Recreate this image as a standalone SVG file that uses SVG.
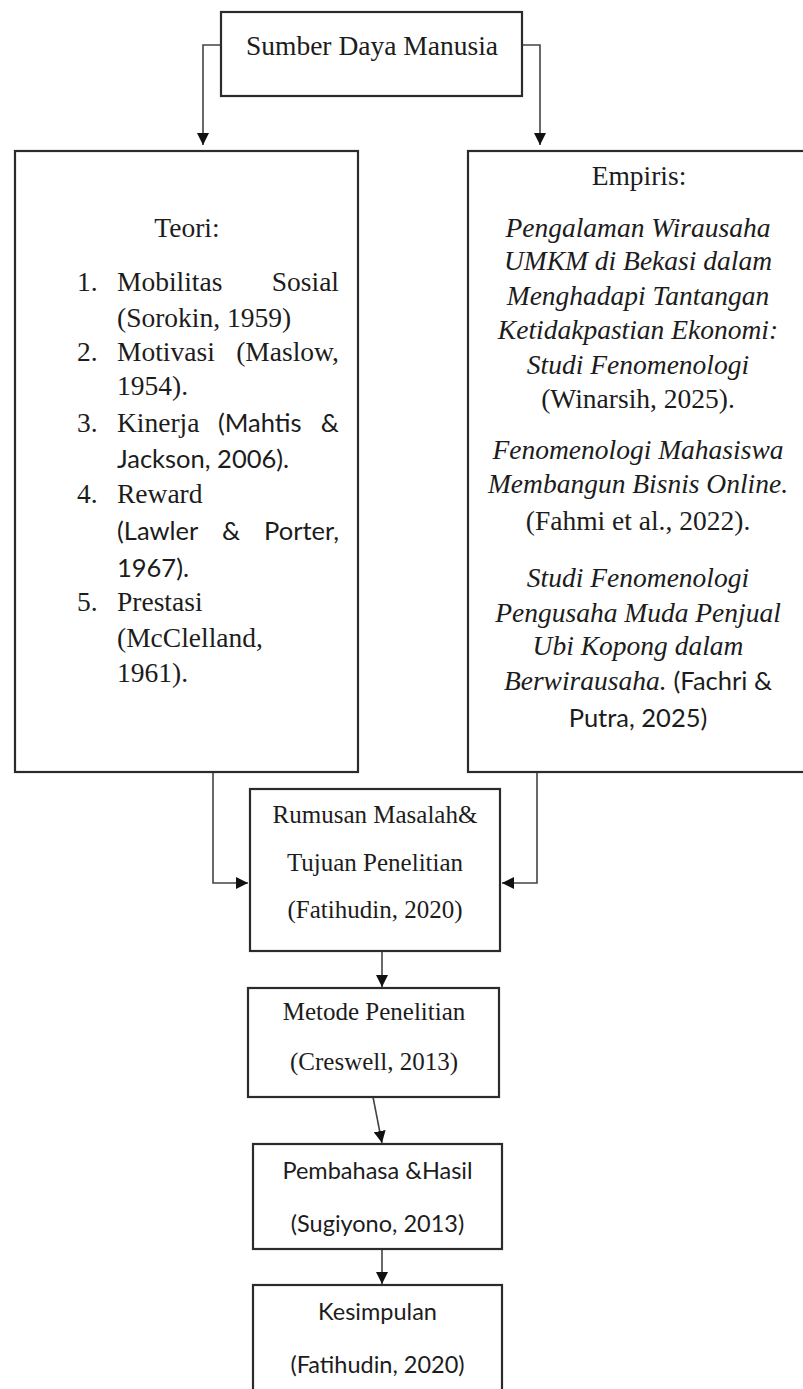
<svg xmlns="http://www.w3.org/2000/svg" width="803" height="1389" viewBox="0 0 803 1389">
<style>
.box{fill:#fff;stroke:#2b2b2b;stroke-width:2.2}
.con{fill:none;stroke:#444;stroke-width:1.6}
.t{font-family:"Liberation Serif","Times New Roman",serif;font-size:27.5px;fill:#1c1c1c}
.tm{font-family:"Liberation Serif","Times New Roman",serif;font-size:25px;fill:#1c1c1c}
.c{font-family:Lato,"Liberation Sans",sans-serif;font-size:25.5px;fill:#1c1c1c}
.cm{font-family:Lato,"Liberation Sans",sans-serif;font-size:23.5px;fill:#1c1c1c}
.i{font-style:italic}
.mid{text-anchor:middle}
.end{text-anchor:end}
</style>
<defs>
<marker id="arr" viewBox="0 0 12 12" refX="12" refY="6" markerWidth="12" markerHeight="12" markerUnits="userSpaceOnUse" orient="auto">
<path d="M0,0 L12,6 L0,12 z" fill="#111"/>
</marker>
</defs>
<rect width="803" height="1389" fill="#fff"/>

<g id="connectors">
<path class="con" d="M221,45 H203 V145" marker-end="url(#arr)"/>
<path class="con" d="M523,45 H540 V145" marker-end="url(#arr)"/>
<path class="con" d="M213,772 V883 H248" marker-end="url(#arr)"/>
<path class="con" d="M537,772 V883 H502" marker-end="url(#arr)"/>
<path class="con" d="M382,951 V987" marker-end="url(#arr)"/>
<path class="con" d="M373,1097 L382,1143" marker-end="url(#arr)"/>
<path class="con" d="M382,1249 V1284" marker-end="url(#arr)"/>
</g>

<g id="sdm">
<rect class="box" x="221" y="12" width="301" height="84"/>
<text class="t mid" x="372" y="55">Sumber Daya Manusia</text>
</g>

<g id="teori">
<rect class="box" x="15" y="151" width="343" height="621"/>
<text class="t mid" x="187" y="237">Teori:</text>
<text class="t" x="77" y="291">1.</text>
<text class="t" x="117" y="291">Mobilitas</text>
<text class="t end" x="339" y="291">Sosial</text>
<text class="t" x="117" y="327">(Sorokin, 1959)</text>
<text class="t" x="77" y="361">2.</text>
<text class="t" x="117" y="361">Motivasi</text>
<text class="t end" x="339" y="361">(Maslow,</text>
<text class="t" x="117" y="395">1954).</text>
<text class="t" x="77" y="432">3.</text>
<text class="t" x="117" y="432">Kinerja</text>
<text class="c" x="218" y="432">(Mahtis</text>
<text class="c end" x="339" y="432">&amp;</text>
<text class="c" x="117" y="468">Jackson, 2006).</text>
<text class="t" x="77" y="503">4.</text>
<text class="t" x="117" y="503">Reward</text>
<text class="c" x="117" y="540">(Lawler</text>
<text class="c" x="222" y="540">&amp;</text>
<text class="c end" x="339" y="540">Porter,</text>
<text class="c" x="117" y="577">1967).</text>
<text class="t" x="77" y="611">5.</text>
<text class="t" x="117" y="611">Prestasi</text>
<text class="t" x="117" y="647">(McClelland,</text>
<text class="t" x="117" y="682">1961).</text>
</g>

<g id="empiris">
<rect class="box" x="468" y="151" width="345" height="621"/>
<text class="t mid" x="639" y="185">Empiris:</text>
<text class="t i mid" x="638" y="237">Pengalaman Wirausaha</text>
<text class="t i mid" x="638" y="270">UMKM di Bekasi dalam</text>
<text class="t i mid" x="638" y="305">Menghadapi Tantangan</text>
<text class="t i mid" x="638" y="339">Ketidakpastian Ekonomi:</text>
<text class="t i mid" x="638" y="374">Studi Fenomenologi</text>
<text class="t mid" x="638" y="408">(Winarsih, 2025).</text>
<text class="t i mid" x="638" y="459">Fenomenologi Mahasiswa</text>
<text class="t i mid" x="638" y="493">Membangun Bisnis Online.</text>
<text class="t mid" x="638" y="530">(Fahmi et al., 2022).</text>
<text class="t i mid" x="638" y="587">Studi Fenomenologi</text>
<text class="t i mid" x="638" y="622">Pengusaha Muda Penjual</text>
<text class="t i mid" x="638" y="655">Ubi Kopong dalam</text>
<text class="t mid" x="638" y="690"><tspan class="i">Berwirausaha.</tspan> <tspan font-family="Lato,'Liberation Sans',sans-serif" font-size="25.5">(Fachri &amp;</tspan></text>
<text class="c mid" x="638" y="727">Putra, 2025)</text>
</g>

<g id="rumusan">
<rect class="box" x="250" y="789" width="250" height="162"/>
<text class="tm mid" x="375" y="823">Rumusan Masalah&amp;</text>
<text class="tm mid" x="375" y="871">Tujuan Penelitian</text>
<text class="tm mid" x="375" y="918">(Fatihudin, 2020)</text>
</g>

<g id="metode">
<rect class="box" x="248" y="988" width="251" height="109"/>
<text class="tm mid" x="374" y="1020">Metode Penelitian</text>
<text class="tm mid" x="374" y="1070">(Creswell, 2013)</text>
</g>

<g id="pembahasan">
<rect class="box" x="253" y="1144" width="249" height="105"/>
<text class="cm mid" x="377.5" y="1179">Pembahasa &amp;Hasil</text>
<text class="cm mid" x="377.5" y="1232">(Sugiyono, 2013)</text>
</g>

<g id="kesimpulan">
<rect class="box" x="253" y="1285" width="249" height="130"/>
<text class="cm mid" x="377.5" y="1320">Kesimpulan</text>
<text class="cm mid" x="377.5" y="1373">(Fatihudin, 2020)</text>
</g>
</svg>
